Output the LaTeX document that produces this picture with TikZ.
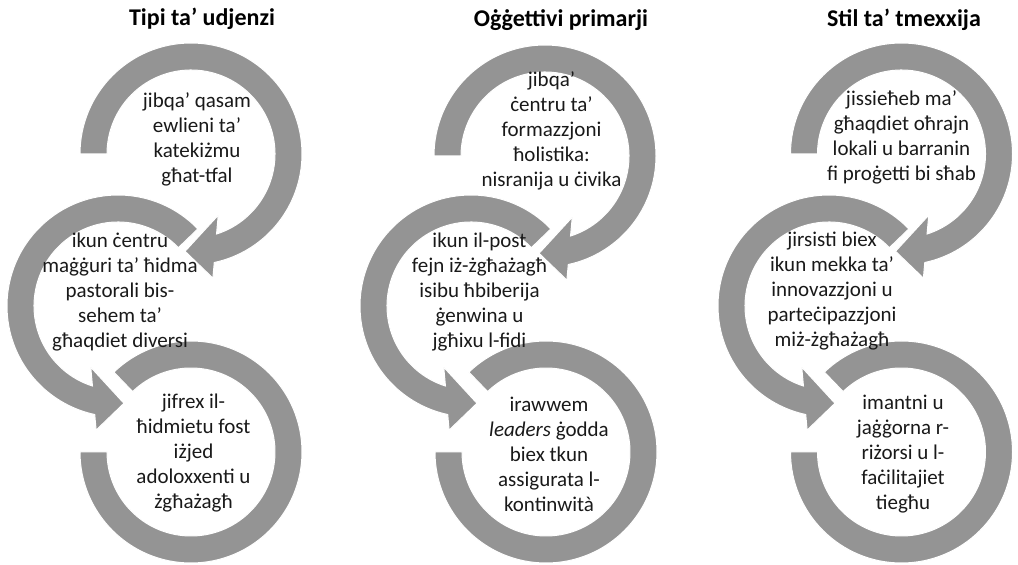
\documentclass[tikz,border=0pt]{standalone}
\usepackage{fontspec}
\setmainfont{Carlito}
\definecolor{ringgray}{RGB}{148,148,148}
\tikzset{
  ring/.style={fill=ringgray, draw=white, line width=1pt, line join=miter},
  txt/.style={align=center, font=\fontsize{21}{25}\selectfont, inner sep=0pt, text=black!90},
  ttl/.style={font=\bfseries\fontsize{24}{28}\selectfont, inner sep=0pt, text=black},
}
\newcommand{\TopArrow}[1]{%
  \path[ring,shift={#1}] (180:111pt) arc[start angle=180,end angle=-77.9,radius=111pt]
    -- (-80:126pt) -- (-93.5:97.5pt) -- (-66:67pt) -- (-72.3:84pt)
    arc[start angle=-72.3,end angle=180,radius=84pt] -- cycle;}
\newcommand{\MidArrow}[1]{%
  \path[ring,shift={#1}] (44:111pt) arc[start angle=44,end angle=257.9,radius=111pt]
    -- (260:126pt) -- (273.5:97.5pt) -- (246:67pt) -- (252.3:84pt)
    arc[start angle=252.3,end angle=44,radius=84pt] -- cycle;}
\newcommand{\BotArc}[1]{%
  \path[ring,shift={#1}] (180:111pt) arc[start angle=180,end angle=494,radius=111pt]
    -- (494:84pt) arc[start angle=494,end angle=180,radius=84pt] -- cycle;}
\begin{document}
\begin{tikzpicture}[x=1pt,y=1pt]
\useasboundingbox (0,0) rectangle (1018,565);
% column 1
\TopArrow{(191,411)}
\MidArrow{(118,259)}
\BotArc{(191,113)}
% column 2
\TopArrow{(545,409)}
\MidArrow{(471,259)}
\BotArc{(546,113)}
% column 3
\TopArrow{(901.5,411)}
\MidArrow{(829,259)}
\BotArc{(901.5,113)}
% titles
\node[ttl] (t1) at (202,546) {Tipi ta’ udjenzi};
\node[ttl] (t2) at (561,545) {Oġġettivi primarji};
\node[ttl] (t3) at (904,545) {Stil ta’ tmexxija};
% column 1 texts
\node[txt] (a1) at (197,426) {jibqa’ qasam\\ewlieni ta’\\katekiżmu\\għat-tfal};
\node[txt] (a2) at (120,273) {ikun ċentru\\maġġuri ta’ ħidma\\pastorali bis-\\sehem ta’\\għaqdiet diversi};
\node[txt] (a3) at (193.5,112) {jifrex il-\\ħidmietu fost\\iżjed\\adoloxxenti u\\żgħażagħ};
% column 2 texts
\node[txt] (b1) at (551.5,434) {jibqa’\\ċentru ta’\\formazzjoni\\ħolistika:\\nisranija u ċivika};
\node[txt] (b2) at (479.5,273) {ikun il-post\\fejn iż-żgħażagħ\\isibu ħbiberija\\ġenwina u\\jgħixu l-fidi};
\node[txt] (b3) at (549,111) {irawwem\\\textit{leaders} ġodda\\biex tkun\\assigurata l-\\kontinwità};
% column 3 texts
\node[txt] (c1) at (901.5,428) {jissieħeb ma’\\għaqdiet oħrajn\\lokali u barranin\\fi proġetti bi sħab};
\node[txt] (c2) at (832,274) {jirsisti biex\\ikun mekka ta’\\innovazzjoni u\\parteċipazzjoni\\miż-żgħażagħ};
\node[txt] (c3) at (903,111) {imantni u\\jaġġorna r-\\riżorsi u l-\\faċilitajiet\\tiegħu};
\end{tikzpicture}
\end{document}
